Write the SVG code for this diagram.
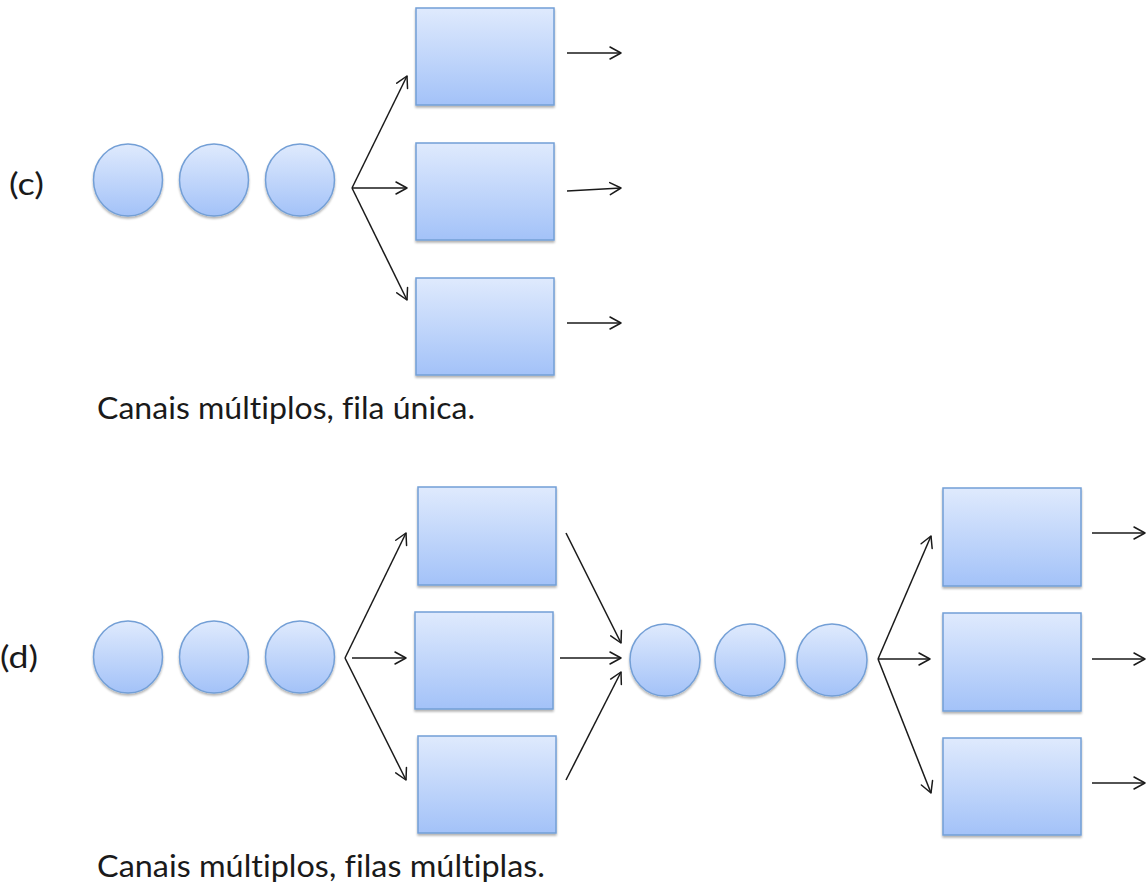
<svg xmlns="http://www.w3.org/2000/svg" width="1147" height="885" viewBox="0 0 1147 885">
<style>
.node{fill:url(#g);stroke:#739fd6;stroke-width:1.5;filter:url(#sh)}
.c{fill:none;stroke:#1a1a1a;stroke-width:1.5;marker-end:url(#ah)}
.t{font-family:Lato,"Open Sans","Liberation Sans",sans-serif;fill:#1a1a1a;font-variant-ligatures:none}
</style>
<defs>
<linearGradient id="g" x1="0" y1="0" x2="0" y2="1">
<stop offset="0" stop-color="#dfeafd"/>
<stop offset="1" stop-color="#a3c2f8"/>
</linearGradient>
<filter id="sh" x="-10%" y="-10%" width="120%" height="130%">
<feDropShadow dx="0" dy="2" stdDeviation="1.2" flood-color="#000" flood-opacity="0.3"/>
</filter>
<marker id="ah" markerUnits="userSpaceOnUse" markerWidth="16" markerHeight="16" viewBox="-13 -8 16 16" refX="0" refY="0" orient="auto">
<path d="M-11,-6 L0,0 L-11,6" fill="none" stroke="#1a1a1a" stroke-width="1.5" stroke-linecap="round" stroke-linejoin="round"/>
</marker>
</defs>
<rect width="1147" height="885" fill="#fff"/>

<g id="label-c"><text class="t" x="9" y="195" font-size="30" textLength="35" lengthAdjust="spacingAndGlyphs">(c)</text></g>
<g id="c-queue1"><ellipse class="node" cx="128" cy="180" rx="34.5" ry="36"/></g>
<g id="c-queue2"><ellipse class="node" cx="214" cy="180" rx="34.5" ry="36"/></g>
<g id="c-queue3"><ellipse class="node" cx="300" cy="180" rx="34.5" ry="36"/></g>
<g id="c-server1"><rect class="node" x="416" y="8" width="138" height="97"/></g>
<g id="c-server2"><rect class="node" x="416" y="143" width="138" height="97"/></g>
<g id="c-server3"><rect class="node" x="416" y="278" width="138" height="97"/></g>
<g id="caption-c"><text class="t" x="97" y="419" font-size="30" textLength="378" lengthAdjust="spacingAndGlyphs">Canais múltiplos, fila única.</text></g>

<g id="label-d"><text class="t" x="0" y="668" font-size="30" textLength="38" lengthAdjust="spacingAndGlyphs">(d)</text></g>
<g id="d-queue1"><ellipse class="node" cx="128" cy="657" rx="34.5" ry="36"/></g>
<g id="d-queue2"><ellipse class="node" cx="214" cy="657" rx="34.5" ry="36"/></g>
<g id="d-queue3"><ellipse class="node" cx="300" cy="657" rx="34.5" ry="36"/></g>
<g id="d-server1"><rect class="node" x="418" y="487" width="138" height="98"/></g>
<g id="d-server2"><rect class="node" x="415" y="612" width="138" height="97"/></g>
<g id="d-server3"><rect class="node" x="418" y="736" width="138" height="97"/></g>
<g id="d-queue4"><ellipse class="node" cx="665" cy="660" rx="35" ry="36"/></g>
<g id="d-queue5"><ellipse class="node" cx="750" cy="660" rx="35" ry="36"/></g>
<g id="d-queue6"><ellipse class="node" cx="832" cy="660" rx="35" ry="36"/></g>
<g id="d-server4"><rect class="node" x="943" y="488" width="138" height="98"/></g>
<g id="d-server5"><rect class="node" x="943" y="613" width="138" height="98"/></g>
<g id="d-server6"><rect class="node" x="943" y="738" width="138" height="97"/></g>
<g id="caption-d"><text class="t" x="97" y="877" font-size="30" textLength="448" lengthAdjust="spacingAndGlyphs">Canais múltiplos, filas múltiplas.</text></g>

<g id="connectors">
<line class="c" x1="352" y1="188" x2="407" y2="76"/>
<line class="c" x1="352" y1="188" x2="407" y2="188"/>
<line class="c" x1="352" y1="188" x2="407" y2="300"/>
<line class="c" x1="567" y1="53" x2="621" y2="53"/>
<line class="c" x1="567" y1="191" x2="621" y2="188"/>
<line class="c" x1="567" y1="323" x2="621" y2="323"/>

<line class="c" x1="345" y1="658" x2="406" y2="533"/>
<line class="c" x1="352" y1="658" x2="406" y2="658"/>
<line class="c" x1="345" y1="658" x2="406" y2="780"/>
<line class="c" x1="566" y1="533" x2="621" y2="643"/>
<line class="c" x1="560" y1="658" x2="621" y2="658"/>
<line class="c" x1="566" y1="780" x2="621" y2="672"/>
<line class="c" x1="878" y1="659" x2="931" y2="536"/>
<line class="c" x1="878" y1="659" x2="930" y2="659"/>
<line class="c" x1="878" y1="659" x2="931" y2="793"/>
<line class="c" x1="1092" y1="533" x2="1145" y2="533"/>
<line class="c" x1="1092" y1="659" x2="1145" y2="659"/>
<line class="c" x1="1092" y1="783" x2="1145" y2="783"/>
</g>
</svg>
